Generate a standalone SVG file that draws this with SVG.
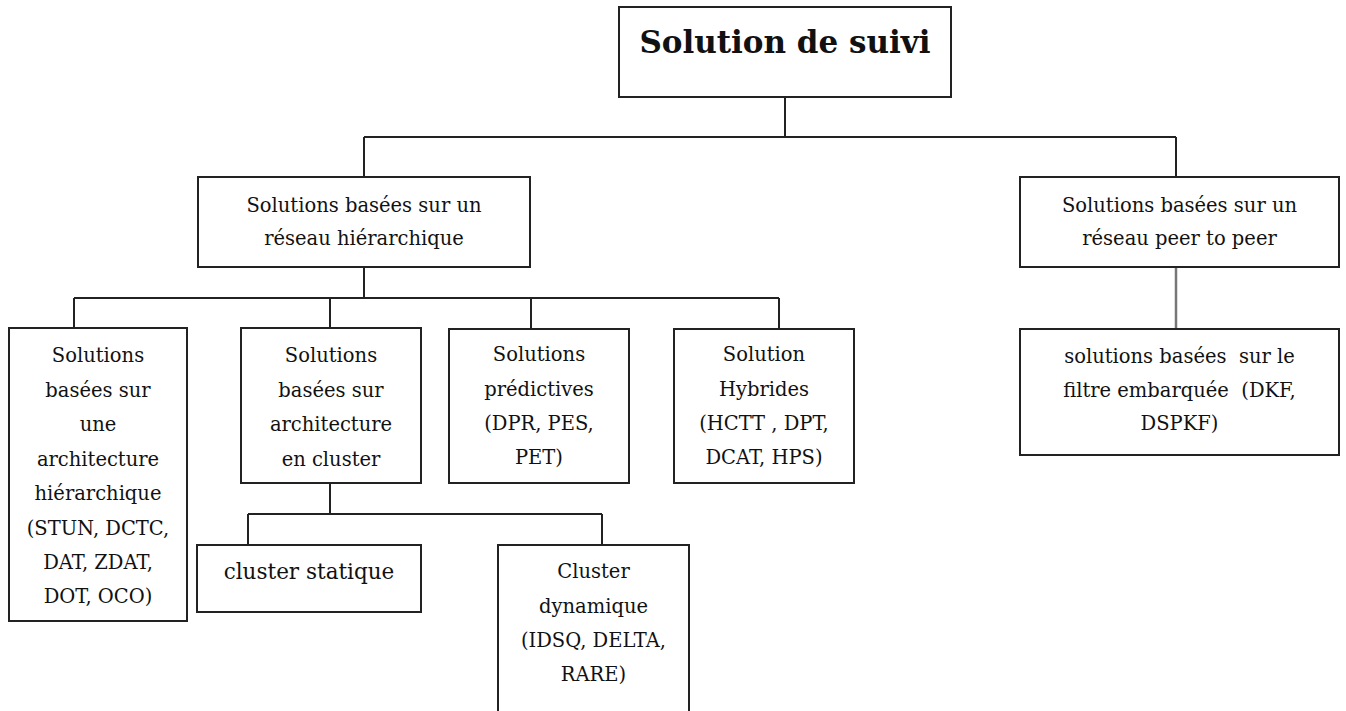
<svg xmlns="http://www.w3.org/2000/svg" width="1346" height="711" viewBox="0 0 1346 711">
<style>
.box{fill:#fff;stroke:#222;stroke-width:2}
.ln{fill:none;stroke:#222;stroke-width:2}
.gr{fill:none;stroke:#777;stroke-width:2.5}
text{font-family:"DejaVu Serif","Liberation Serif",serif;font-size:19.5px;fill:#111;text-anchor:middle}
.title{font-size:31px;font-weight:bold}
.big{font-size:21.5px}
</style>
<rect width="1346" height="711" fill="#fff"/>
<g id="connectors">
<path class="ln" d="M785 97V137M364 137H1176M364 137V177M1176 137V177"/>
<path class="ln" d="M364 267V298M74 298H779M74 298V328M330 298V328M531 298V329M779 298V329"/>
<path class="ln" d="M330 483V514M248 514H602M248 514V545M602 514V545"/>
<path class="gr" d="M1176 267V329"/>
</g>
<g id="root"><rect class="box" x="619" y="7" width="332" height="90"/><text class="title" x="785" y="53">Solution de suivi</text></g>
<g id="hier"><rect class="box" x="198" y="177" width="332" height="90"/><text x="364" y="212">Solutions basées sur un</text><text x="364" y="245">réseau hiérarchique</text></g>
<g id="p2p"><rect class="box" x="1020" y="177" width="319" height="90"/><text x="1179.5" y="212">Solutions basées sur un</text><text x="1179.5" y="245">réseau peer to peer</text></g>
<g id="archhier"><rect class="box" x="9" y="328" width="178" height="293"/>
<text x="98" y="362">Solutions</text><text x="98" y="397">basées sur</text><text x="98" y="431">une</text><text x="98" y="466">architecture</text><text x="98" y="500">hiérarchique</text><text x="98" y="535">(STUN, DCTC,</text><text x="98" y="569">DAT, ZDAT,</text><text x="98" y="603">DOT, OCO)</text></g>
<g id="archcluster"><rect class="box" x="241" y="328" width="180" height="155"/>
<text x="331" y="362">Solutions</text><text x="331" y="397">basées sur</text><text x="331" y="431">architecture</text><text x="331" y="466">en cluster</text></g>
<g id="predictive"><rect class="box" x="449" y="329" width="180" height="154"/>
<text x="539" y="361">Solutions</text><text x="539" y="396">prédictives</text><text x="539" y="430">(DPR, PES,</text><text x="539" y="464">PET)</text></g>
<g id="hybrid"><rect class="box" x="674" y="329" width="180" height="154"/>
<text x="764" y="361">Solution</text><text x="764" y="396">Hybrides</text><text x="764" y="430">(HCTT , DPT,</text><text x="764" y="464">DCAT, HPS)</text></g>
<g id="filtre"><rect class="box" x="1020" y="329" width="319" height="126"/>
<text x="1179.5" y="363" xml:space="preserve">solutions basées  sur le</text><text x="1179.5" y="397" xml:space="preserve">filtre embarquée  (DKF,</text><text x="1179.5" y="430">DSPKF)</text></g>
<g id="static"><rect class="box" x="197" y="545" width="224" height="67"/><text class="big" x="309" y="579">cluster statique</text></g>
<g id="dynamic"><rect class="box" x="498" y="545" width="191" height="175"/>
<text x="593.5" y="578">Cluster</text><text x="593.5" y="613">dynamique</text><text x="593.5" y="647">(IDSQ, DELTA,</text><text x="593.5" y="681">RARE)</text></g>
</svg>
